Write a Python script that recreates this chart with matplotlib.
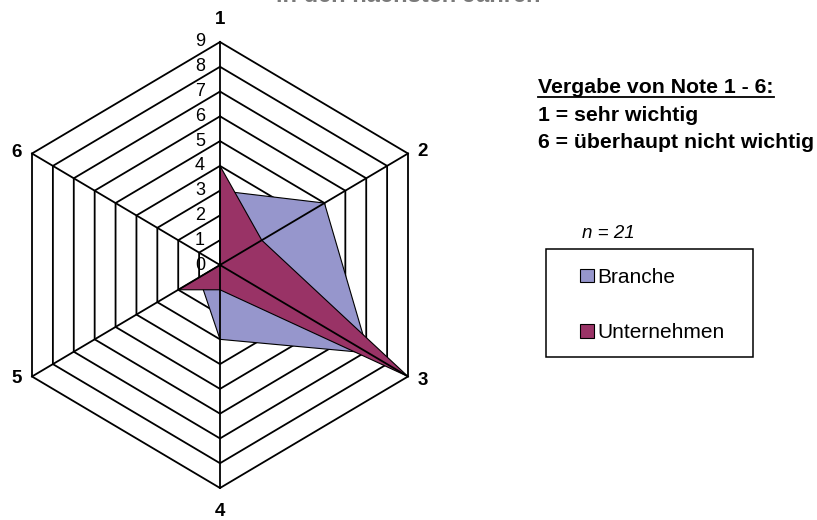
import numpy as np
import matplotlib
matplotlib.use("Agg")
import matplotlib.pyplot as plt
from matplotlib.patches import Patch, Rectangle
from matplotlib.lines import Line2D

plt.rcParams['font.family'] = ['Liberation Sans', 'DejaVu Sans']

# ---- data ----
axis_labels = ["1", "2", "3", "4", "5", "6"]
branche = [3, 5, 7.1, 3, 1, 0]
unternehmen = [4, 2, 9, 1, 2, 0]
ring_values = list(range(0, 10))
series_names = ["Branche", "Unternehmen"]
note_title = "Vergabe von Note 1 - 6:"
note_lines = ["1 = sehr wichtig", "6 = überhaupt nicht wichtig"]
n_text = "n = 21"
title_text = "in den nächsten Jahren"

W, H = 817, 520
fig = plt.figure(figsize=(W / 100, H / 100), dpi=100)

# pixel scale of one unit along x and y
rmax = 9
ux = 188 / (rmax * np.sin(np.pi / 3))
uy = 223 / rmax
ax = fig.add_axes([0, 10 / H, 440 / W, 490 / H])
ax.set_xlim(-220 / ux, 220 / ux)
ax.set_ylim(-245 / uy, 245 / uy)
ax.axis('off')

n = len(axis_labels)
theta = np.arange(n) * 2 * np.pi / n
sx, sy = np.sin(theta), np.cos(theta)


def xy(vals):
    v = np.asarray(vals, dtype=float)
    x = v * sx
    y = v * sy
    return np.append(x, x[0]), np.append(y, y[0])


# rings (below fills)
for r in ring_values[1:]:
    x, y = xy([r] * n)
    ax.plot(x, y, color='black', lw=1.3, zorder=1, solid_joinstyle='miter')

# fills
bx, by = xy(branche)
ax.fill(bx, by, facecolor='#9696CC', edgecolor='black', lw=0.8, zorder=2)
ux_, uy_ = xy(unternehmen)
ax.fill(ux_, uy_, facecolor='#993366', edgecolor='black', lw=0.8, zorder=3)

# spokes (on top)
for k in range(n):
    ax.plot([0, rmax * sx[k]], [0, rmax * sy[k]], color='black', lw=1.3, zorder=5)

# radial tick labels
for v in ring_values:
    ax.annotate(str(v), xy=(0, v), xytext=(-15, 0), textcoords='offset pixels',
                ha='right', va='center', fontsize=13, zorder=6)

# axis labels
offsets = [(0, 23), (15, 2), (15, -4), (0, -23), (-15, -2), (-15, 1)]
for k, lab in enumerate(axis_labels):
    ax.annotate(lab, xy=(rmax * sx[k], rmax * sy[k]), xytext=offsets[k],
                textcoords='offset pixels', ha='center', va='center',
                fontsize=13.5, fontweight='bold', zorder=6)

# cut-off title (only its lower edge is visible in the original)
fig.text(408 / W, 1 - 1.5 / H, title_text, ha='center', va='baseline',
         fontsize=17, fontweight='bold', color='#7a7a7a')

# note text
t0 = fig.text(538 / W, 1 - 93 / H, note_title, ha='left', va='baseline',
              fontsize=15.3, fontweight='bold')
fig.text(538 / W, 1 - 121 / H, note_lines[0], ha='left', va='baseline',
         fontsize=15.3, fontweight='bold')
fig.text(538 / W, 1 - 148 / H, note_lines[1], ha='left', va='baseline',
         fontsize=15.3, fontweight='bold')
fig.canvas.draw()
bb = t0.get_window_extent()
fig.add_artist(Line2D([bb.x0 / W, bb.x1 / W], [(H - 96.5) / H] * 2,
                     color='black', lw=1.3, transform=fig.transFigure))

# n = 21
fig.text(582 / W, 1 - 233 / H, n_text, ha='left', va='center',
         fontsize=13.5, style='italic')

# legend box
fig.add_artist(Rectangle((546 / W, 1 - 357 / H), 207 / W, 108 / H,
                         transform=fig.transFigure, fill=False,
                         edgecolor='black', lw=1.1))
handles = [Patch(facecolor='#9696CC', edgecolor='black', lw=0.8),
           Patch(facecolor='#993366', edgecolor='black', lw=0.8)]
fig.legend(handles, series_names, loc='upper left',
           bbox_to_anchor=(580 / W, 1 - 268 / H), frameon=False,
           borderpad=0, borderaxespad=0, fontsize=15,
           handlelength=0.68, handleheight=0.6, handletextpad=0.15,
           labelspacing=1.75)

fig.savefig('out.png', dpi=100)
